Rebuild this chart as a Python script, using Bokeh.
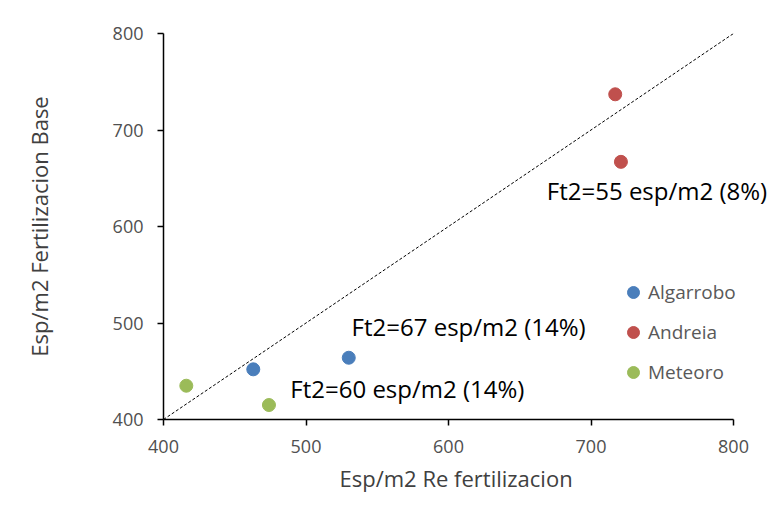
from bokeh.plotting import figure
from bokeh.models import Range1d, FixedTicker, Legend, LegendItem, Label, ColumnDataSource, Title
from bokeh.embed import file_html
from bokeh.resources import INLINE

# Data
varieties = ["Algarrobo", "Andreia", "Meteoro"]
colors = ["#4A7EBB", "#C0504D", "#9BBB59"]
re_fert = {
    "Algarrobo": [463, 530],
    "Andreia": [717, 721],
    "Meteoro": [416, 474],
}
base_fert = {
    "Algarrobo": [452, 464],
    "Andreia": [737, 667],
    "Meteoro": [435, 415],
}
ticks = [400, 500, 600, 700, 800]
diag_x = [400, 800]
diag_y = [400, 800]
notes = ["Ft2=55 esp/m2 (8%)", "Ft2=67 esp/m2 (14%)", "Ft2=60 esp/m2 (14%)"]
note_x = [669, 532, 489]
note_y = [637, 496, 432]

FONT = "Open Sans"

# frame: 400..800 spans 570 px; extra room on the right so the annotation is not clipped
PX_PER_UNIT = 570 / 400
FIG_W, LEFT = 768, 163
x_end = 400 + (FIG_W - LEFT) / PX_PER_UNIT

p = figure(width=FIG_W, height=514, output_backend="svg", toolbar_location=None,
           x_range=Range1d(400, x_end), y_range=Range1d(400, 800),
           min_border_left=LEFT, min_border_right=0, min_border_top=33, min_border_bottom=95)
p.outline_line_color = None
p.xgrid.visible = False
p.ygrid.visible = False
p.background_fill_color = "white"
p.border_fill_color = "white"

for ax in (p.xaxis[0], p.yaxis[0]):
    ax.ticker = FixedTicker(ticks=ticks)
    ax.bounds = (400, 800)
    ax.axis_line_color = "#000000"
    ax.axis_line_width = 1.5
    ax.major_tick_line_color = "#000000"
    ax.major_tick_line_width = 1.5
    ax.major_tick_out = 6
    ax.major_tick_in = 0
    ax.minor_tick_line_color = None
    ax.major_label_text_font = FONT
    ax.major_label_text_font_size = "18px"
    ax.major_label_text_color = "#505050"
    ax.axis_label_text_font = FONT
    ax.axis_label_text_font_size = "22px"
    ax.axis_label_text_color = "#404040"
    ax.axis_label_text_font_style = "normal"

p.yaxis[0].axis_label = "Esp/m2 Fertilizacion Base"
p.xaxis[0].major_label_standoff = 14
p.yaxis[0].major_label_standoff = 14
p.yaxis[0].axis_label_standoff = 56

# x-axis title placed under the 400..800 span (the frame extends further right)
x_title = Title(text="Esp/m2 Re fertilizacion", align="left", offset=176,
                text_font=FONT, text_font_size="22px",
                text_color="#404040", text_font_style="normal", standoff=11)
p.add_layout(x_title, "below")

p.line(diag_x, diag_y, line_color="#000000", line_width=1, line_dash="3 2")

items = []
for v, c in zip(varieties, colors):
    src = ColumnDataSource(dict(x=re_fert[v], y=base_fert[v]))
    r = p.scatter("x", "y", source=src, size=13, fill_color=c, line_color=c)
    items.append(LegendItem(label=v, renderers=[r]))

legend = Legend(items=items, location=(455, 32), border_line_color=None,
                background_fill_alpha=0, label_text_font=FONT, label_text_font_size="19px",
                label_text_color="#595959", spacing=10, padding=0, margin=0, glyph_width=30,
                glyph_height=30, label_height=30, label_standoff=0)
p.add_layout(legend)

for t, x, y in zip(notes, note_x, note_y):
    p.add_layout(Label(x=x, y=y, text=t, text_font=FONT, text_font_size="24px",
                       text_color="#000000", text_baseline="middle"))

open("out.html", "w").write(file_html(p, INLINE))
